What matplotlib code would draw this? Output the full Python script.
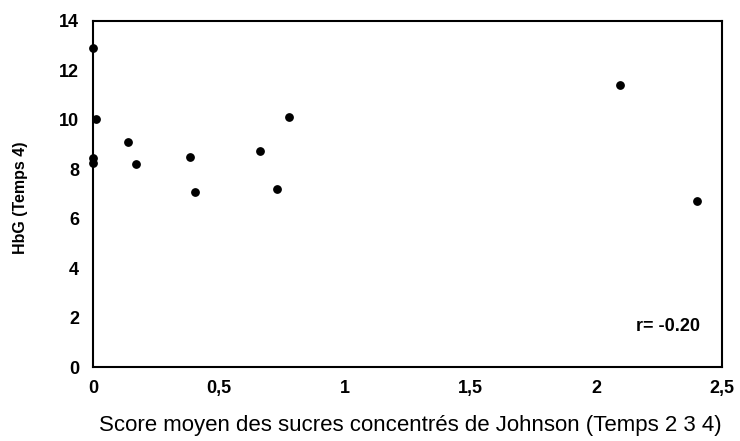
import matplotlib
matplotlib.use('Agg')
import matplotlib.pyplot as plt

# Score moyen des sucres concentrés (Temps 2 3 4) vs HbG (Temps 4)
score = [0.0, 0.01, 0.0, 0.0, 0.14, 0.17, 0.386, 0.405, 0.664, 0.731, 0.78, 2.095, 2.40]
hbg = [12.9, 10.04, 8.45, 8.25, 9.1, 8.2, 8.5, 7.1, 8.72, 7.21, 10.13, 11.42, 6.72]

xticks = [0, 0.5, 1, 1.5, 2, 2.5]
xlabels = ['0', '0,5', '1', '1,5', '2', '2,5']
yticks = [0, 2, 4, 6, 8, 10, 12, 14]

plt.rcParams['font.family'] = ['Liberation Sans', 'DejaVu Sans']

fig = plt.figure(figsize=(7.4, 4.41), dpi=100)
ax = fig.add_axes([0.1257, 0.1678, 0.85, 0.7846])

ax.scatter(score, hbg, s=28, color='black', zorder=3, clip_on=False)

ax.set_xlim(0, 2.5)
ax.set_ylim(0, 14)
ax.set_xticks(xticks)
ax.set_xticklabels(xlabels)
ax.set_yticks(yticks)
ax.tick_params(length=0, labelsize=13)
ax.tick_params(axis='y', pad=10)
ax.tick_params(axis='x', pad=9)
for lab in ax.get_xticklabels() + ax.get_yticklabels():
    lab.set_fontweight('bold')
for sp in ax.spines.values():
    sp.set_linewidth(1.5)

ax.set_ylabel('HbG (Temps 4)', fontsize=11.5, fontweight='bold')
ax.yaxis.set_label_coords(-0.1145, 0.49)
ax.yaxis.label.set_va('center')

ax.set_xlabel('Score moyen des sucres concentrés de Johnson (Temps 2 3 4)', fontsize=16)
ax.xaxis.set_label_coords(0.504, -0.168)
ax.xaxis.label.set_va('center')

ax.text(0.965, 0.118, 'r= -0.20', transform=ax.transAxes, ha='right', va='center',
        fontsize=13, fontweight='bold')

plt.savefig('out.png', dpi=100)
